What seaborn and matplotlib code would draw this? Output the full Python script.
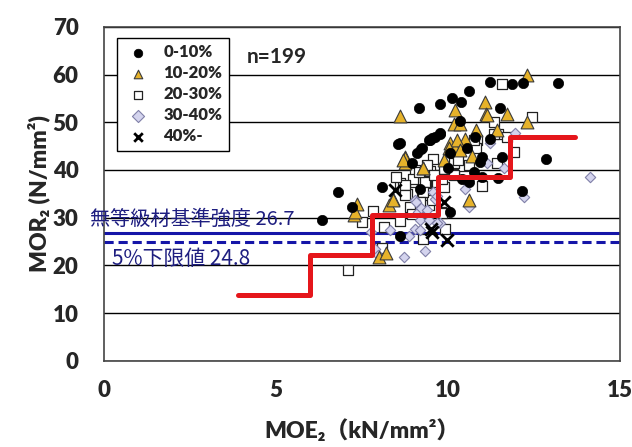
import pandas as pd
import matplotlib.pyplot as plt
import seaborn as sns

# MOE2 / MOR2 points, grouped by class
x_0_10 = [6.34, 6.82, 7.21, 8.08, 8.55, 9.10, 9.22, 9.47, 9.63, 9.76, 10.07, 8.62, 10.07, 8.96,
          11.23, 11.86, 12.18, 13.20, 10.60, 10.12, 10.38, 9.76, 9.15, 11.52, 10.36, 9.78, 9.54,
          9.44, 9.25, 8.62, 12.86, 11.46, 12.15, 10.99, 11.57, 10.80, 11.23, 10.75, 10.94, 10.55,
          10.00, 10.40, 9.20, 11.00, 10.60]
y_0_10 = [29.4, 35.3, 32.3, 36.5, 45.4, 43.6, 44.3, 46.2, 46.9, 47.5, 43.5, 26.1, 31.2, 41.4,
          58.5, 58.1, 58.3, 58.3, 56.5, 55.0, 54.3, 53.9, 52.9, 53.0, 50.2, 47.8, 46.6,
          46.2, 44.5, 45.6, 42.2, 38.4, 35.6, 42.7, 42.7, 46.9, 46.4, 39.6, 41.7, 44.5,
          40.5, 38.0, 36.0, 38.5, 37.5]

x_10_20 = [7.36, 7.26, 8.74, 8.76, 8.40, 8.28, 7.99, 8.21, 9.29, 10.07, 10.20, 12.30, 11.09,
           10.22, 10.17, 10.36, 11.12, 11.72, 12.30, 10.83, 10.50, 10.26, 10.02, 10.36, 8.76,
           9.29, 10.60, 8.60, 11.43, 11.14, 7.31, 8.42, 8.71, 9.90, 10.70]
y_10_20 = [32.8, 30.5, 42.7, 41.4, 34.0, 32.6, 21.8, 22.5, 40.3, 45.6, 44.5, 59.9, 54.3,
           52.5, 49.7, 49.7, 51.8, 51.8, 50.1, 48.3, 46.4, 46.2, 44.5, 44.2, 42.4,
           40.3, 33.7, 51.3, 48.3, 51.5, 31.2, 33.7, 42.1, 42.0, 43.0]

x_20_30 = [7.11, 7.50, 7.82, 8.13, 8.60, 8.08, 9.58, 9.05, 9.49, 9.88, 10.17, 8.62, 8.71, 8.81,
           9.05, 9.37, 9.25, 9.68, 9.88, 9.44, 9.20, 9.80, 9.92, 9.28, 9.39, 8.91, 9.54, 8.96,
           11.57, 12.44, 11.33, 11.45, 11.72, 10.85, 10.83, 11.93, 11.43, 10.99, 10.44, 10.17,
           9.00, 9.34, 9.83, 9.29, 8.76, 8.76, 9.20, 9.83, 10.75, 10.17, 11.33, 10.30, 10.60,
           9.60, 8.50, 9.15]
y_20_30 = [19.0, 29.1, 31.4, 28.1, 29.3, 23.7, 42.2, 40.0, 39.8, 40.1, 39.1, 37.3, 36.5, 34.9,
           37.5, 37.3, 35.4, 37.5, 36.5, 32.6, 30.9, 31.2, 27.7, 25.6, 41.0, 32.3, 33.7, 30.7,
           58.1, 51.1, 50.1, 47.5, 46.9, 46.2, 44.7, 43.8, 41.5, 36.7, 40.8, 38.9,
           38.2, 37.5, 38.2, 35.4, 36.8, 34.7, 33.3, 30.9, 46.2, 41.4, 47.6, 42.0, 41.0,
           39.0, 38.5, 39.5]

x_30_40 = [7.76, 7.89, 7.96, 8.33, 8.73, 8.86, 9.05, 9.34, 9.05, 9.12, 9.18, 9.44, 9.63, 9.57,
           9.22, 9.76, 11.96, 11.21, 11.62, 11.14, 10.51, 10.51, 10.60, 12.20, 14.14, 9.68,
           9.08, 9.20, 9.68, 9.40]
y_30_40 = [27.0, 23.5, 22.1, 27.5, 21.7, 26.1, 27.7, 23.0, 33.7, 31.2, 29.5, 29.6, 34.0, 35.4,
           32.1, 28.9, 47.8, 45.6, 40.3, 41.4, 37.9, 36.1, 32.3, 34.4, 38.6, 34.5,
           33.3, 27.4, 28.8, 31.5]

x_40 = [8.47, 9.51, 9.97, 9.88, 9.54]
y_40 = [35.8, 27.7, 25.3, 33.3, 27.0]

# lower-limit step line
step_x = [3.9, 6.0, 7.8, 9.7, 11.8, 13.7]
step_y = [13.7, 22.1, 30.5, 38.5, 46.8, 46.8]

base_strength = 26.7
lower_5pct = 24.8

groups = ['0-10%', '10-20%', '20-30%', '30-40%', '40%-']
xs = [x_0_10, x_10_20, x_20_30, x_30_40, x_40]
ys = [y_0_10, y_10_20, y_20_30, y_30_40, y_40]
df = pd.concat([pd.DataFrame({'MOE': a, 'MOR': b, 'group': g}) for a, b, g in zip(xs, ys, groups)])

sns.set_style('white')
plt.rcParams['font.family'] = ['Lato', 'Noto Sans CJK JP', 'DejaVu Sans']

fig = plt.figure(figsize=(6.32, 4.47), dpi=100)
ax = fig.add_axes([0.164, 0.193, 0.817, 0.747])

ax.set_axisbelow(True)
ax.grid(axis='y', color='black', linewidth=1.0)

# marker styles per group
styles = {
    '0-10%': dict(marker='o', s=55, color='black', edgecolor='black', linewidth=0.5),
    '10-20%': dict(marker='^', s=85, color='#e6b22a', edgecolor='#3a3a3a', linewidth=0.8),
    '20-30%': dict(marker='s', s=60, color='white', edgecolor='#222222', linewidth=0.9),
    '30-40%': dict(marker='D', s=28, color='#d4d4ee', edgecolor='#8080a8', linewidth=0.8),
    '40%-': dict(marker='x', s=80, color='black', linewidth=2.0),
}

ax.axhline(base_strength, color='#1515a8', linewidth=2.2, zorder=2)
ax.axhline(lower_5pct, color='#1515a8', linewidth=2.2, linestyle=(0, (3, 1.6)), zorder=2)

for g in ['20-30%', '30-40%', '10-20%', '0-10%', '40%-']:
    sns.scatterplot(data=df[df['group'] == g], x='MOE', y='MOR', ax=ax, label=g, zorder=3, **styles[g])

ax.step(step_x, step_y, where='post', color='#e5161b', linewidth=3.6, zorder=4, solid_capstyle='round')

ax.text(-0.40, 29.7, '無等級材基準強度 26.7', color='#1e1e80', fontsize=14.5,
        family=['Noto Sans CJK JP', 'DejaVu Sans'], va='center', ha='left', zorder=5, clip_on=False)
ax.text(0.24, 21.4, '5%下限値 24.8', color='#1e1e80', fontsize=15,
        family=['Noto Sans CJK JP', 'DejaVu Sans'], va='center', ha='left', zorder=5)
ax.text(4.17, 63.6, 'n=199', fontsize=15, fontweight='bold', va='center', ha='left')

ax.set_xlim(0, 15)
ax.set_ylim(0, 70)
ax.set_xticks([0, 5, 10, 15])
ax.set_yticks(range(0, 71, 10))
ax.tick_params(axis='both', direction='in', length=5, labelsize=16, color='#333333')
ax.tick_params(axis='x', pad=14)
ax.tick_params(axis='y', length=0, pad=18)
for lab in ax.get_xticklabels() + ax.get_yticklabels():
    lab.set_fontweight('heavy')

for sp in ax.spines.values():
    sp.set_color('#444444')
    sp.set_linewidth(1.2)

ax.set_xlabel('MOE₂（kN/mm²）', fontsize=16.5, fontweight='heavy', labelpad=13)
ax.set_ylabel('MOR₂ (N/mm²)', fontsize=16.5, fontweight='heavy', labelpad=2)

# legend in the fixed order
handles, labels = ax.get_legend_handles_labels()
order = [labels.index(g) for g in groups]
leg = ax.legend([handles[i] for i in order], groups, loc='upper left', bbox_to_anchor=(0.025, 0.968),
                frameon=True, fancybox=False, edgecolor='black', framealpha=1, borderaxespad=0,
                prop={'weight': 'heavy', 'size': 12}, handletextpad=0.6, labelspacing=0.3,
                borderpad=0.4, handlelength=1.8)
leg.get_frame().set_linewidth(1.0)
for h in leg.legend_handles:
    h.set_sizes([38])

plt.savefig('out.png', dpi=100)
plt.close()
